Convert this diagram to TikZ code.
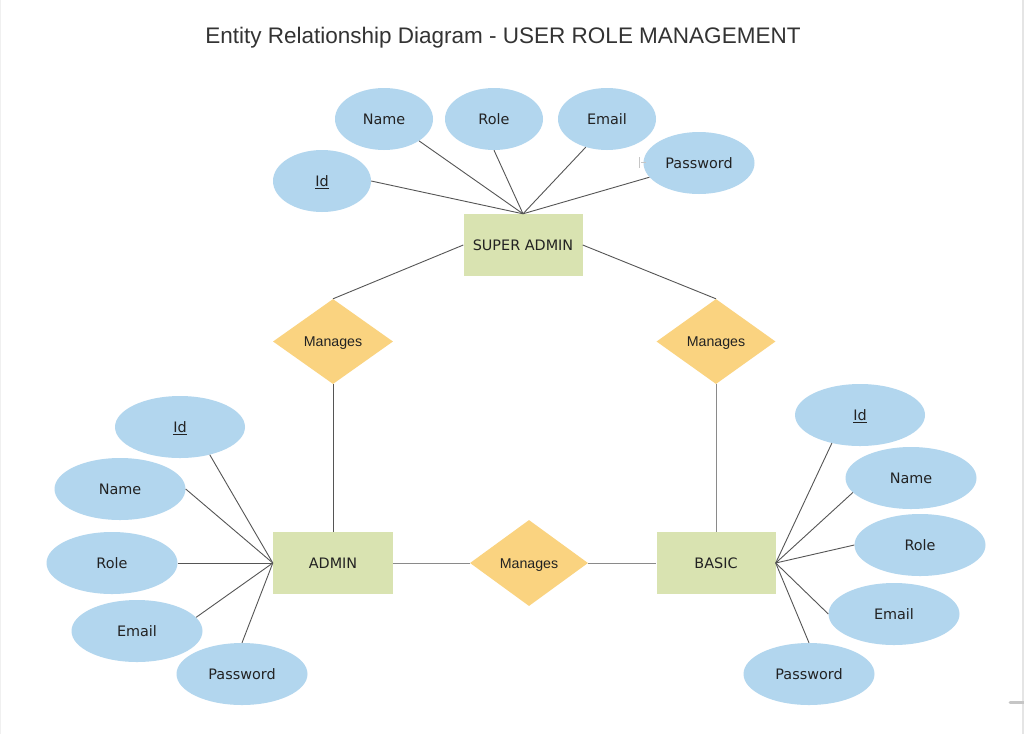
\documentclass[tikz,border=0pt]{standalone}
\usepackage{fontspec}
\setmainfont{DejaVu Sans}
\newfontfamily\arialfont{Liberation Sans}
\usetikzlibrary{shapes.geometric}
\definecolor{attrfill}{HTML}{B2D6EE}
\definecolor{entfill}{HTML}{D9E3B1}
\definecolor{relfill}{HTML}{FAD380}
\definecolor{linecol}{HTML}{555555}
\definecolor{lightline}{HTML}{8A8A8A}
\definecolor{txt}{HTML}{222222}
\tikzset{
  attr/.style={ellipse, fill=attrfill, minimum width=98pt, minimum height=62pt, inner sep=0pt, font=\fontsize{14.4}{16}\selectfont, text=txt, text height=10.5pt, text depth=0pt},
  wattr/.style={attr, minimum width=131pt},
  ent/.style={rectangle, fill=entfill, minimum width=119pt, minimum height=62pt, inner sep=0pt, font=\fontsize{14.4}{16}\selectfont, text=txt, text height=10.5pt, text depth=0pt},
  rel/.style={diamond, fill=relfill, minimum width=119pt, minimum height=85pt, inner sep=0pt, aspect=1.4, font=\arialfont\fontsize{14.2}{16}\selectfont, text=txt, text height=10.2pt, text depth=0pt},
  conn/.style={draw=linecol, line width=0.9pt},
  lconn/.style={draw=lightline, line width=1pt},
}
\begin{document}
\begin{tikzpicture}[x=1pt, y=-1pt]
\useasboundingbox (0,0) rectangle (1024,734);
\fill[white] (0,0) rectangle (1024,734);
% page edges
\fill[gray!20] (1021.5,0) rectangle (1024,734);
\fill[gray!12] (0,0) rectangle (1,734);
\draw[gray!45, line width=3pt, line cap=round] (1010,702) -- (1024,702);
% title
\node[font=\arialfont\fontsize{22.5}{26}\selectfont, text=black!80, text height=16.1pt, text depth=0pt, inner sep=0pt] (title) at (503,35) {Entity Relationship Diagram - USER ROLE MANAGEMENT};

% entities
\node[ent] (sa) at (523,245) {SUPER ADMIN};
\node[ent, minimum width=120pt] (admin) at (333,563) {ADMIN};
\node[ent] (basic) at (716,563) {BASIC};

% relationships
\node[rel, minimum width=120pt] (m1) at (333,341.5) {Manages};
\node[rel] (m2) at (716,341.5) {Manages};
\node[rel, minimum width=118pt, minimum height=86pt] (m3) at (529,563) {Manages};

% super admin attributes
\node[attr] (sid) at (322,181) {\underline{Id}};
\node[attr] (sname) at (384,119) {Name};
\node[attr] (srole) at (494,119) {Role};
\node[attr] (semail) at (607,119) {Email};
\node[attr, minimum width=111pt] (spass) at (699,163) {Password};

% admin attributes
\node[wattr, minimum width=130pt] (aid) at (180,427) {\underline{Id}};
\node[wattr] (aname) at (120,489) {Name};
\node[wattr] (arole) at (112,563) {Role};
\node[wattr] (aemail) at (137,631) {Email};
\node[wattr] (apass) at (242,674) {Password};

% basic attributes
\node[wattr, minimum width=130pt] (bid) at (860,415) {\underline{Id}};
\node[wattr] (bname) at (911,478) {Name};
\node[wattr] (brole) at (920,545) {Role};
\node[wattr] (bemail) at (894,614) {Email};
\node[wattr] (bpass) at (809,674) {Password};

% small artifact near Password
\draw[gray!45, line width=1pt] (639,157) -- (639,168);
\draw[gray!45, line width=1pt] (641,162.5) -- (646,162.5);

% connectors: super admin attributes
\draw[conn] (sid.east) -- (sa.north);
\draw[conn] (sname.-32) -- (sa.north);
\draw[conn] (srole.south) -- (sa.north);
\draw[conn] (semail.-127) -- (sa.north);
\draw[conn] (spass.-164) -- (sa.north);
% admin attributes
\draw[conn] (aid.-43) -- (admin.west);
\draw[conn] (aname.east) -- (admin.west);
\draw[conn] (arole.east) -- (admin.west);
\draw[conn] (aemail.13) -- (admin.west);
\draw[conn] (apass.north) -- (admin.west);
% basic attributes
\draw[conn] (bid.-135) -- (basic.east);
\draw[conn] (bname.-166) -- (basic.east);
\draw[conn] (brole.west) -- (basic.east);
\draw[conn] (bemail.west) -- (basic.east);
\draw[conn] (bpass.north) -- (basic.east);

% relationships
\draw[conn] (sa.west) -- (m1.north);
\draw[conn] (sa.east) -- (m2.north);
\draw[conn] (m1.south) -- (admin.north);
\draw[lconn] (m2.south) -- (basic.north);
\draw[lconn] (admin.east) -- (m3.west);
\draw[lconn] (m3.east) -- (basic.west);
\end{tikzpicture}
\end{document}
